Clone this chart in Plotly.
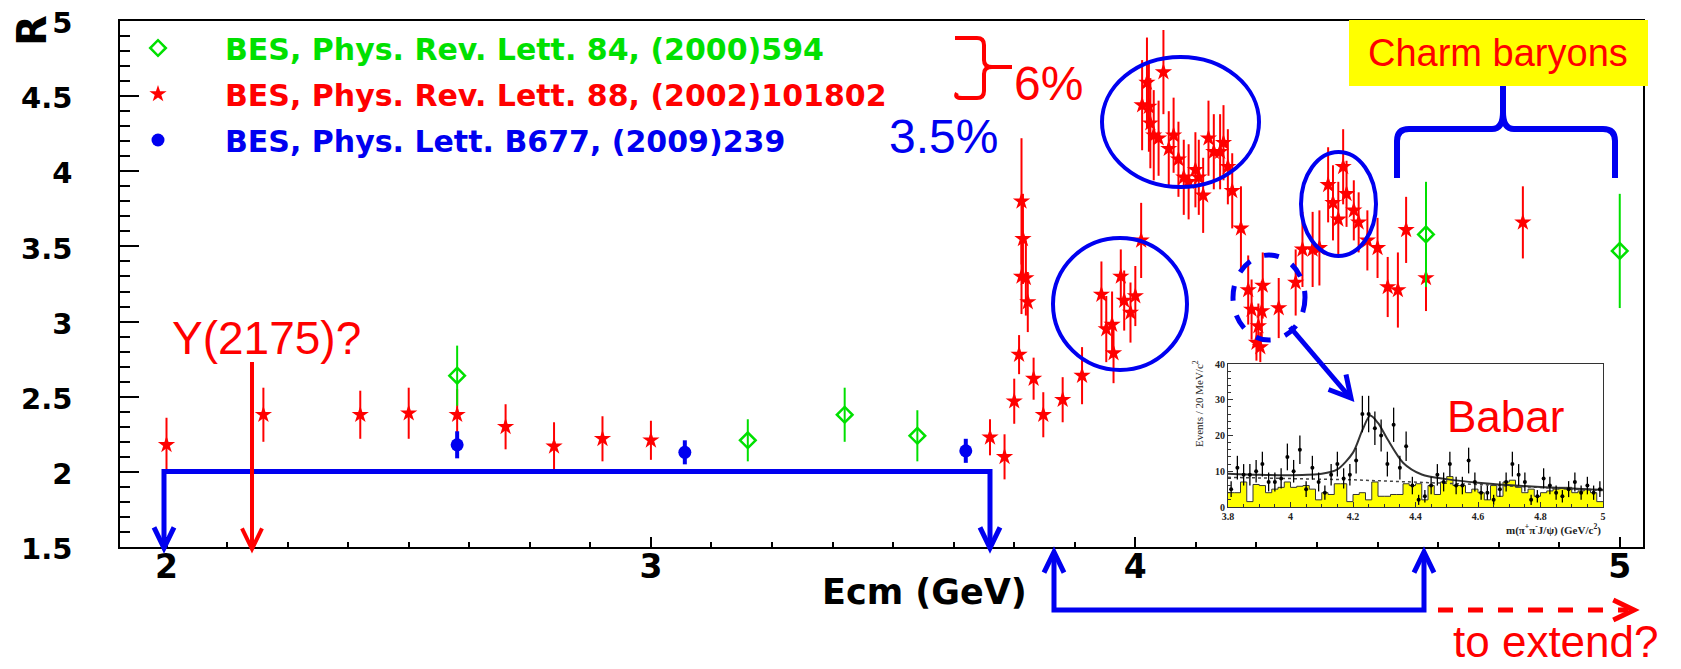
import math
import numpy as np
import plotly.graph_objects as go

# ---------------- R scan data ----------------
# BES, PRL 88 (2002) 101802
bes2002_ecm = [2.00, 2.20, 2.40, 2.50, 2.60, 2.70, 2.80, 2.90, 3.00, 3.70,
               3.73, 3.75, 3.76, 3.765, 3.765, 3.768, 3.774, 3.778, 3.79, 3.81,
               3.85, 3.89, 3.93, 3.94, 3.952, 3.955, 3.97, 3.977, 3.99, 4.00,
               4.012, 4.014, 4.024, 4.028, 4.031, 4.038, 4.048, 4.058, 4.069, 4.079,
               4.089, 4.10, 4.11, 4.124, 4.131, 4.14, 4.151, 4.162, 4.175, 4.182,
               4.191, 4.20, 4.218, 4.233, 4.24, 4.25, 4.254, 4.258, 4.261, 4.263,
               4.296, 4.331, 4.345, 4.366, 4.38, 4.398, 4.408, 4.419, 4.429, 4.436,
               4.451, 4.461, 4.479, 4.50, 4.521, 4.542, 4.559, 4.60, 4.80]
bes2002_r = [2.18, 2.38, 2.38, 2.39, 2.38, 2.30, 2.17, 2.22, 2.21, 2.23,
             2.10, 2.47, 2.78, 3.80, 3.30, 3.55, 3.29, 3.13, 2.62, 2.38,
             2.48, 2.64, 3.18, 2.95, 2.98, 2.79, 3.30, 3.14, 3.06, 3.17,
             3.54, 4.44, 4.59, 4.43, 4.32, 4.24, 4.22, 4.66, 4.15, 4.24,
             4.08, 3.96, 3.93, 4.01, 3.96, 3.84, 4.22, 4.13, 4.13, 4.19,
             4.03, 3.87, 3.62, 3.21, 3.08, 2.86, 2.97, 2.83, 3.07, 3.24,
             3.09, 3.26, 3.48, 3.48, 3.49, 3.91, 3.79, 3.68, 4.03, 3.85,
             3.74, 3.66, 3.54, 3.49, 3.23, 3.21, 3.61, 3.29, 3.66]
bes2002_err = [0.18, 0.18, 0.16, 0.17, 0.17, 0.15, 0.16, 0.15, 0.13, 0.12,
               0.15, 0.15, 0.13, 0.42, 0.25, 0.30, 0.25, 0.20, 0.14, 0.15,
               0.15, 0.19, 0.22, 0.22, 0.22, 0.20, 0.18, 0.20, 0.20, 0.20,
               0.25, 0.30, 0.30, 0.30, 0.30, 0.30, 0.25, 0.28, 0.25, 0.25,
               0.25, 0.25, 0.25, 0.25, 0.25, 0.25, 0.25, 0.25, 0.25, 0.25,
               0.25, 0.25, 0.28, 0.23, 0.20, 0.12, 0.15, 0.10, 0.20, 0.22,
               0.20, 0.22, 0.25, 0.25, 0.25, 0.25, 0.25, 0.25, 0.25, 0.22,
               0.20, 0.20, 0.20, 0.20, 0.20, 0.25, 0.22, 0.22, 0.24]

# BES, PRL 84 (2000) 594
bes2000_ecm = [2.60, 3.20, 3.40, 3.55, 4.60, 5.00]
bes2000_r = [2.64, 2.21, 2.38, 2.24, 3.58, 3.47]
bes2000_err = [0.20, 0.14, 0.18, 0.17, 0.35, 0.38]

# BES, PLB 677 (2009) 239
bes2009_ecm = [2.60, 3.07, 3.65]
bes2009_r = [2.18, 2.13, 2.14]
bes2009_err = [0.09, 0.08, 0.08]

x_tick_vals = [2, 3, 4, 5]
x_tick_text = ["2", "3", "4", "5"]
y_tick_vals = [1.5, 2, 2.5, 3, 3.5, 4, 4.5, 5]
y_tick_text = ["1.5", "2", "2.5", "3", "3.5", "4", "4.5", "5"]

# ---------------- Babar Y(4260) spectrum ----------------
babar_lo, babar_bin = 3.80, 0.02
babar_counts = [5, 11, 9, 9, 10, 12, 7, 7, 8, 14,
                10, 16, 5, 11, 7, 4, 9, 12, 8, 9,
                13, 26, 26, 22, 20, 12, 23, 11, 17, 6,
                2, 3, 6, 9, 7, 12, 6, 6, 13, 7,
                4, 4, 2, 5, 7, 12, 9, 7, 2, 3,
                8, 6, 4, 3, 5, 7, 4, 6, 4, 5]
babar_sideband = [4, 4, 7, 1.5, 6.3, 6, 4, 5, 5.5, 7,
                  5.5, 5.8, 6, 5, 2, 4, 3.5, 6.5, 6.5, 1.5,
                  3.5, 4, 2, 7, 3, 3, 3.5, 3.5, 6.5, 6,
                  6.5, 2, 6, 3.5, 7, 8.5, 6, 6, 4, 5,
                  4, 2, 6, 3, 7, 7.5, 5.5, 4, 5, 3,
                  4, 4.5, 5, 5.5, 5.5, 4, 4.5, 5, 4, 1.5]
fit_mass = [3.80, 3.90, 4.00, 4.10, 4.15, 4.20, 4.23, 4.255, 4.28, 4.31,
            4.36, 4.42, 4.50, 4.60, 4.80, 5.00]
fit_events = [9.3, 9.0, 8.9, 9.3, 10.5, 15.2, 21.5, 25.6, 23.5, 19.0,
              12.4, 9.1, 7.8, 6.8, 5.6, 4.8]
bkg_mass = [3.80, 4.20, 4.60, 5.00]
bkg_events = [8.3, 7.6, 6.3, 4.6]
inset_x_ticks = [3.8, 4, 4.2, 4.4, 4.6, 4.8, 5]
inset_x_text = ["3.8", "4", "4.2", "4.4", "4.6", "4.8", "5"]
inset_y_ticks = [0, 10, 20, 30, 40]

# ---------------- layout geometry (pixels) ----------------
W, H = 1681, 669
PL, PR, PT, PB = 120, 1643, 21, 547

RED = "#ff0000"
GREEN = "#00e000"
BLUE = "#0000f0"


def fx(x):
    return (x - PL) / (PR - PL)


def fy(y):
    return (PB - y) / (PB - PT)


def path(cmds):
    """cmds: list of (letter, [x, y, ...]) in pixels -> SVG path in paper units."""
    out = []
    for c, pts in cmds:
        coords = [f"{fx(pts[i]):.5f},{fy(pts[i + 1]):.5f}" for i in range(0, len(pts), 2)]
        out.append(c + " ".join(coords))
    return " ".join(out)


def polyline(*pts):
    cmds = [("M", list(pts[0]))] + [("L", list(p)) for p in pts[1:]]
    return path(cmds)


def vhead(tx, ty, dx, dy, length=23, spread=0.45):
    ang = math.atan2(dy, dx) + math.pi
    p1 = (tx + length * math.cos(ang - spread), ty + length * math.sin(ang - spread))
    p2 = (tx + length * math.cos(ang + spread), ty + length * math.sin(ang + spread))
    return polyline(p1, (tx, ty), p2)


def pshape(p, color, width, dash="solid"):
    return dict(type="path", xref="paper", yref="paper", path=p,
                line=dict(color=color, width=width, dash=dash))


def ellipse(x0, y0, x1, y1, color, width, dash="solid"):
    return dict(type="circle", xref="paper", yref="paper",
                x0=fx(x0), x1=fx(x1), y0=fy(y1), y1=fy(y0),
                line=dict(color=color, width=width, dash=dash))


fig = go.Figure()

# ---------------- main R data ----------------
fig.add_trace(go.Scatter(
    x=bes2002_ecm, y=bes2002_r, mode="markers",
    name=f"<span style='color:{RED}'>BES, Phys. Rev. Lett. 88, (2002)101802</span>",
    legendgroup="b", legendrank=2,
    marker=dict(symbol="star", size=13, color=RED),
    error_y=dict(type="data", array=bes2002_err, color=RED, thickness=2, width=0),
))
fig.add_trace(go.Scatter(
    x=bes2000_ecm, y=bes2000_r, mode="markers",
    name=f"<span style='color:{GREEN}'>BES, Phys. Rev. Lett. 84, (2000)594</span>",
    legendgroup="a", legendrank=1,
    marker=dict(symbol="diamond-open", size=12, color=GREEN, line=dict(width=2.5, color=GREEN)),
    error_y=dict(type="data", array=bes2000_err, color=GREEN, thickness=2, width=0),
))
fig.add_trace(go.Scatter(
    x=bes2009_ecm, y=bes2009_r, mode="markers",
    name=f"<span style='color:{BLUE}'>BES, Phys. Lett. B677, (2009)239</span>",
    legendgroup="c", legendrank=3,
    marker=dict(symbol="circle", size=13, color=BLUE),
    error_y=dict(type="data", array=bes2009_err, color=BLUE, thickness=4, width=0),
))

# ---------------- Babar inset ----------------
edges = np.round(babar_lo + babar_bin * np.arange(len(babar_sideband) + 1), 3)
centers = np.round(babar_lo + babar_bin * (np.arange(len(babar_counts)) + 0.5), 3)
fig.add_trace(go.Scatter(
    x=edges, y=babar_sideband + [babar_sideband[-1]], mode="lines",
    line=dict(shape="hv", color="#333333", width=1),
    fill="tozeroy", fillcolor="#ffff00",
    xaxis="x2", yaxis="y2", showlegend=False, hoverinfo="skip",
))
fig.add_trace(go.Scatter(
    x=bkg_mass, y=bkg_events, mode="lines",
    line=dict(color="#444444", width=1.5, dash="dot"),
    xaxis="x2", yaxis="y2", showlegend=False,
))
fig.add_trace(go.Scatter(
    x=fit_mass, y=fit_events, mode="lines",
    line=dict(color="#333333", width=2, shape="spline", smoothing=0.8),
    xaxis="x2", yaxis="y2", showlegend=False,
))
fig.add_trace(go.Scatter(
    x=centers, y=babar_counts, mode="markers",
    marker=dict(color="black", size=4),
    error_y=dict(type="data", array=np.sqrt(babar_counts), color="black", thickness=1.3, width=0),
    xaxis="x2", yaxis="y2", showlegend=False,
))

# ---------------- decorations ----------------
shapes = []
# Charm baryons box
shapes.append(dict(type="rect", xref="paper", yref="paper",
                   x0=fx(1349), x1=fx(1648), y0=fy(86), y1=fy(20),
                   fillcolor="#ffff00", line=dict(width=0)))
# low-energy bracket with down arrows
shapes.append(pshape(polyline((164, 545), (164, 471.5), (990, 471.5), (990, 545)), BLUE, 5))
shapes.append(pshape(vhead(164, 548, 0, 1), BLUE, 5))
shapes.append(pshape(vhead(990, 548, 0, 1), BLUE, 5))
# Y(2175) arrow
shapes.append(pshape(polyline((252, 362), (252, 546)), RED, 4))
shapes.append(pshape(vhead(252, 549, 0, 1), RED, 4))
# bracket below the axis
shapes.append(pshape(polyline((1054, 555), (1054, 610), (1424, 610), (1424, 555)), BLUE, 5))
shapes.append(pshape(vhead(1054, 552, 0, -1), BLUE, 5))
shapes.append(pshape(vhead(1424, 552, 0, -1), BLUE, 5))
# dashed extension arrow
shapes.append(pshape(polyline((1438, 610), (1628, 610)), RED, 5, "dash"))
shapes.append(pshape(vhead(1634, 610, 1, 0), RED, 5))
# red brace for 6%
shapes.append(pshape(path([
    ("M", [955, 38]), ("L", [977, 38]), ("Q", [984, 38, 984, 45]), ("L", [984, 60]),
    ("Q", [984, 67, 992, 67]), ("L", [1012, 67]),
    ("M", [992, 67]), ("Q", [984, 67, 984, 74]), ("L", [984, 91]),
    ("Q", [984, 98, 977, 98]), ("L", [962, 98]), ("Q", [954, 98, 957, 93]),
]), RED, 4))
# blue brace under Charm baryons
shapes.append(pshape(path([
    ("M", [1397, 178]), ("L", [1397, 141]), ("Q", [1397, 129, 1409, 129]), ("L", [1492, 129]),
    ("Q", [1503, 129, 1503, 112]), ("L", [1503, 86]),
    ("M", [1503, 112]), ("Q", [1503, 129, 1514, 129]), ("L", [1603, 129]),
    ("Q", [1615, 129, 1615, 141]), ("L", [1615, 178]),
]), BLUE, 6))
# circles around structures
shapes.append(ellipse(1053, 238, 1187, 370, BLUE, 4))
shapes.append(ellipse(1102, 57, 1259, 187, BLUE, 4))
shapes.append(ellipse(1301, 152, 1376, 256, BLUE, 4))
shapes.append(ellipse(1233, 255, 1305, 340, BLUE, 5, "dash"))
# arrow to the Babar peak
shapes.append(pshape(polyline((1290, 327), (1348, 395)), BLUE, 5))
shapes.append(pshape(vhead(1351, 398, 61, 71, length=24, spread=0.5), BLUE, 5))


def note(text, x, y, size, color, family="Liberation Sans", angle=0, weight="normal",
         xanchor="center"):
    return dict(text=text, x=fx(x), y=fy(y), xref="paper", yref="paper",
                showarrow=False, textangle=angle, xanchor=xanchor, yanchor="middle",
                font=dict(family=family, size=size, color=color, weight=weight))


annotations = [
    note("R", 32, 31, 40, "black", "DejaVu Sans", -90, "bold"),
    note("Ecm (GeV)", 924, 592, 35, "black", "DejaVu Sans", 0, "bold"),
    note("6%", 1048, 84, 48, RED),
    note("3.5%", 943, 136, 48, BLUE),
    note("Y(2175)?", 266, 338, 46, RED),
    note("to extend?", 1556, 641, 44, RED),
    note("Babar", 1505, 416, 44, RED),
    note("Charm baryons", 1498, 53, 38, RED),
    note("Events / 20 MeV/c<sup>2</sup>", 1198, 404, 11, "#222222", "Liberation Serif", -90),
    note("m(π<sup>+</sup>π<sup>-</sup>J/ψ) (GeV/c<sup>2</sup>)", 1603, 529, 11, "#222222",
         "Liberation Serif", 0, "bold", "right"),
]

fig.update_layout(
    width=W, height=H,
    margin=dict(l=PL, r=W - PR, t=PT, b=H - PB, pad=0, autoexpand=False),
    paper_bgcolor="white", plot_bgcolor="white",
    shapes=shapes, annotations=annotations,
    showlegend=True,
    legend=dict(x=fx(91), y=fy(22), xanchor="left", yanchor="top",
                bgcolor="rgba(0,0,0,0)", itemwidth=124, tracegroupgap=4,
                traceorder="grouped",
                font=dict(family="DejaVu Sans", size=30, weight="bold")),
    xaxis=dict(range=[1.904, 5.048], tickmode="array", tickvals=x_tick_vals, ticktext=x_tick_text,
               ticks="inside", ticklen=10, tickwidth=1.5, tickcolor="black",
               showline=True, linewidth=1.5, linecolor="black", mirror=True, automargin=False,
               showgrid=False, zeroline=False, ticklabelstandoff=-10,
               tickfont=dict(family="DejaVu Sans", size=33, color="black", weight="bold"),
               minor=dict(tick0=2, dtick=0.125, ticks="inside", ticklen=5, tickcolor="black",
                          showgrid=False)),
    yaxis=dict(range=[1.5, 5.0], tickmode="array", tickvals=y_tick_vals, ticktext=y_tick_text,
               ticks="inside", ticklen=19, tickwidth=1.5, tickcolor="black",
               showline=True, linewidth=1.5, linecolor="black", mirror=True, automargin=False,
               showgrid=False, zeroline=False, ticklabelstandoff=40, ticklabelshift=2,
               tickfont=dict(family="DejaVu Sans", size=29, color="black", weight="bold"),
               minor=dict(tick0=1.5, dtick=0.1, ticks="inside", ticklen=10, tickcolor="black",
                          showgrid=False)),
    xaxis2=dict(domain=[fx(1228), fx(1603)], anchor="y2", range=[3.8, 5.0],
                tickmode="array", tickvals=inset_x_ticks, ticktext=inset_x_text,
                ticks="inside", ticklen=5, tickcolor="#333333", automargin=False,
                showline=True, linewidth=1, linecolor="#333333", mirror=True,
                showgrid=False, zeroline=False, ticklabelstandoff=0,
                tickfont=dict(family="Liberation Serif", size=10, color="#222222", weight="bold"),
                minor=dict(dtick=0.05, tick0=3.8, ticks="inside", ticklen=3, tickcolor="#333333")),
    yaxis2=dict(domain=[fy(507), fy(364)], anchor="x2", range=[0, 40],
                tickmode="array", tickvals=inset_y_ticks, automargin=False,
                ticks="inside", ticklen=5, tickcolor="#333333",
                showline=True, linewidth=1, linecolor="#333333", mirror=True,
                showgrid=False, zeroline=False, ticklabelstandoff=0,
                tickfont=dict(family="Liberation Serif", size=10, color="#222222", weight="bold"),
                minor=dict(dtick=2, tick0=0, ticks="inside", ticklen=3, tickcolor="#333333")),
)

fig.write_html("out.html")
